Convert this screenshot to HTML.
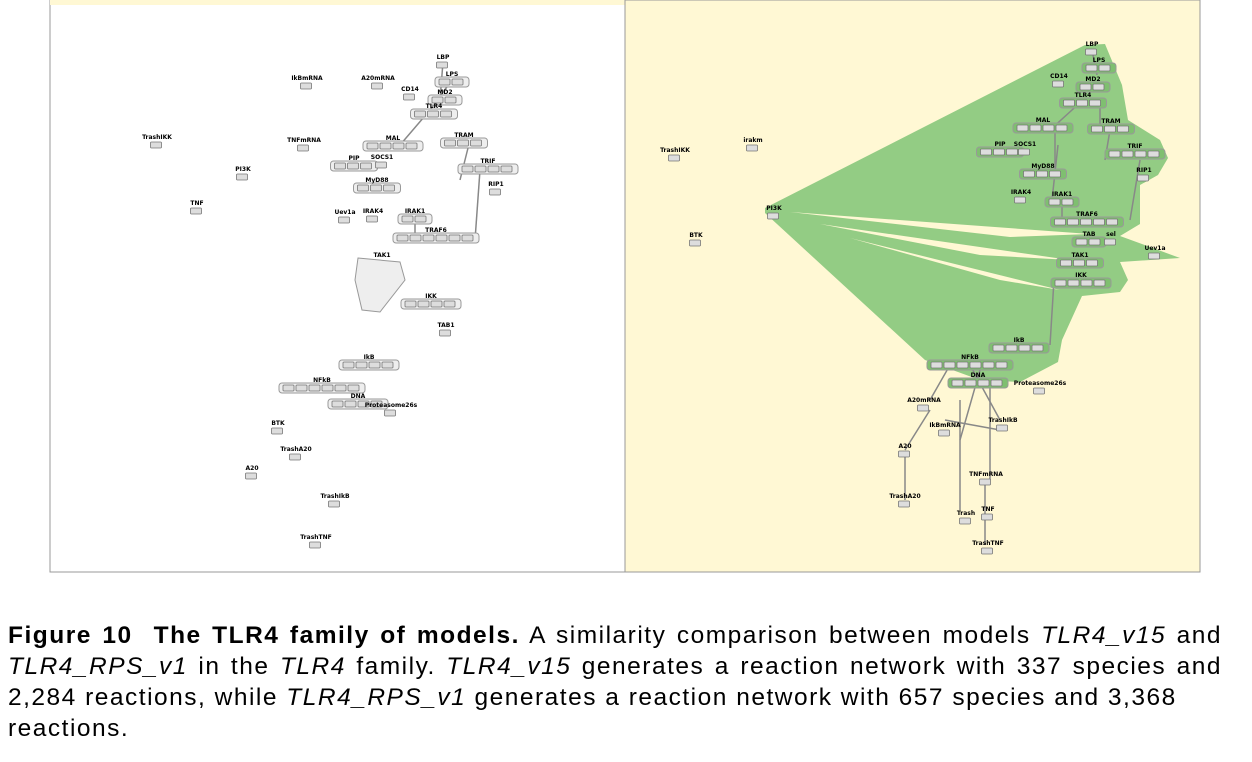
<!DOCTYPE html>
<html><head><meta charset="utf-8"><style>
body{margin:0;width:1252px;height:762px;background:#fff;position:relative;overflow:hidden;font-family:"Liberation Sans",sans-serif}
svg{position:absolute;left:0;top:0}
.cap{position:absolute;left:8px;width:1214px;font-size:24.5px;letter-spacing:1.5px;line-height:31px;color:#000}
.l{text-align:justify;text-align-last:justify;white-space:nowrap;height:31px}
.l.last{text-align-last:left}
</style></head><body>
<svg width="1252" height="600">
<rect x="50" y="0" width="575" height="572" fill="#fff" stroke="#999"/>
<rect x="50" y="0" width="575" height="5" fill="#fff8d4"/>
<rect x="625" y="0" width="575" height="572" fill="#fff8d4" stroke="#999"/>
<polygon fill="#93cc84" points="765,208 1085,45 1105,44 1122,85 1128,120 1160,140 1168,158 1158,175 1140,185 1140,224 1120,236 1180,258 1120,262 1128,280 1120,292 1082,296 1062,340 1058,362 1020,382 980,380 925,360 765,213"/>
<polygon fill="#fff8d4" points="790,212 1090,234 1010,237"/>
<polygon fill="#fff8d4" points="820,224 1070,260 980,255"/>
<polygon fill="#fff8d4" points="850,238 1060,290 1000,280"/>
<polygon fill="#eee" stroke="#999" points="358,258 400,262 405,280 380,312 362,310 355,280"/>
<g id="edges" stroke="#888" stroke-width="1.5" fill="none"></g>
<g id="nodes"></g>
</svg>
<div class="cap" style="top:620px">
<div class="l"><b>Figure 10&nbsp; The TLR4 family of models.</b> A similarity comparison between models <i>TLR4_v15</i> and</div>
<div class="l"><i>TLR4_RPS_v1</i> in the <i>TLR4</i> family. <i>TLR4_v15</i> generates a reaction network with 337 species and</div>
<div class="l last">2,284 reactions, while <i>TLR4_RPS_v1</i> generates a reaction network with 657 species and 3,368</div>
<div class="l last">reactions.</div>
</div>
<script>
const leftNodes=[["LBP",443,58,1],["LPS",452,75,2],["IkBmRNA",307,79,1],["A20mRNA",378,79,1],["CD14",410,90,1],["MD2",445,93,2],["TLR4",434,107,3],["TrashIKK",157,138,1],["TNFmRNA",304,141,1],["MAL",393,139,4],["TRAM",464,136,3],["PIP",354,159,3],["SOCS1",382,158,1],["TRIF",488,162,4],["PI3K",243,170,1],["MyD88",377,181,3],["RIP1",496,185,1],["TNF",197,204,1],["Uev1a",345,213,1],["IRAK4",373,212,1],["IRAK1",415,212,2],["TRAF6",436,231,6],["IKK",431,297,4],["TAB1",446,326,1],["IkB",369,358,4],["NFkB",322,381,6],["DNA",358,397,4],["Proteasome26s",391,406,1],["BTK",278,424,1],["TrashA20",296,450,1],["A20",252,469,1],["TrashIkB",335,497,1],["TrashTNF",316,538,1],["TAK1",382,256,0]];
const rightNodes=[["LBP",1092,45,1],["LPS",1099,61,2],["CD14",1059,77,1],["MD2",1093,80,2],["TLR4",1083,96,3],["irakm",753,141,1],["TrashIKK",675,151,1],["MAL",1043,121,4],["TRAM",1111,122,3],["PIP",1000,145,3],["SOCS1",1025,145,1],["TRIF",1135,147,4],["MyD88",1043,167,3],["RIP1",1144,171,1],["IRAK4",1021,193,1],["IRAK1",1062,195,2],["PI3K",774,209,1],["TRAF6",1087,215,5],["BTK",696,236,1],["TAB",1089,235,2],["sel",1111,235,1],["Uev1a",1155,249,1],["TAK1",1080,256,3],["IKK",1081,276,4],["IkB",1019,341,4],["NFkB",970,358,6],["DNA",978,376,4],["Proteasome26s",1040,384,1],["A20mRNA",924,401,1],["IkBmRNA",945,426,1],["TrashIkB",1003,421,1],["A20",905,447,1],["TNFmRNA",986,475,1],["TrashA20",905,497,1],["Trash",966,514,1],["TNF",988,510,1],["TrashTNF",988,544,1]];
const edgeList=[[443,62,440,100],[452,80,430,110],[430,110,400,145],[470,140,460,180],[480,170,475,240],[460,240,400,240],[415,216,415,235],[1092,50,1097,75],[1083,100,1050,130],[1100,100,1100,125],[1110,130,1105,160],[1140,160,1130,220],[1055,125,1055,175],[1058,145,1052,200],[1062,200,1062,218],[1054,280,1050,345],[970,365,1000,420],[950,365,930,400],[980,370,960,440],[990,380,990,480],[930,410,905,450],[905,455,905,500],[985,485,985,545],[960,400,960,510],[945,420,1000,430]];
const eg=document.getElementById('edges');
edgeList.forEach(e=>{const l=document.createElementNS('http://www.w3.org/2000/svg','line');
l.setAttribute('x1',e[0]);l.setAttribute('y1',e[1]);l.setAttribute('x2',e[2]);l.setAttribute('y2',e[3]);


eg.appendChild(l);});
const ng=document.getElementById('nodes');
function draw(list,hull){list.forEach(n=>{const [name,x,y,k]=n;const g=document.createElementNS('http://www.w3.org/2000/svg','g');


let w=Math.max(k,1)*13+4;
if(k>1){const h=document.createElementNS('http://www.w3.org/2000/svg','rect');h.setAttribute('x',x-w/2-2);h.setAttribute('y',y+2);h.setAttribute('width',w+4);h.setAttribute('height',10);h.setAttribute('rx',3);h.setAttribute('fill',hull);h.setAttribute('stroke','#999');g.appendChild(h);}
for(let i=0;i<k;i++){const r=document.createElementNS('http://www.w3.org/2000/svg','rect');r.setAttribute('x',x-w/2+2+i*13);r.setAttribute('y',y+4);r.setAttribute('width',11);r.setAttribute('height',6);r.setAttribute('rx',1);r.setAttribute('fill','#ddd');r.setAttribute('stroke','#777');r.setAttribute('stroke-width','0.8');g.appendChild(r);}
const t=document.createElementNS('http://www.w3.org/2000/svg','text');t.setAttribute('x',x);t.setAttribute('y',y+1);t.setAttribute('text-anchor','middle');t.setAttribute('font-size','6');t.setAttribute('font-weight','bold');t.setAttribute('font-family','DejaVu Sans, sans-serif');t.textContent=name;g.appendChild(t);
ng.appendChild(g);});}
draw(leftNodes,'#eee');draw(rightNodes,'#7fbf70');
</script>
</body></html>
